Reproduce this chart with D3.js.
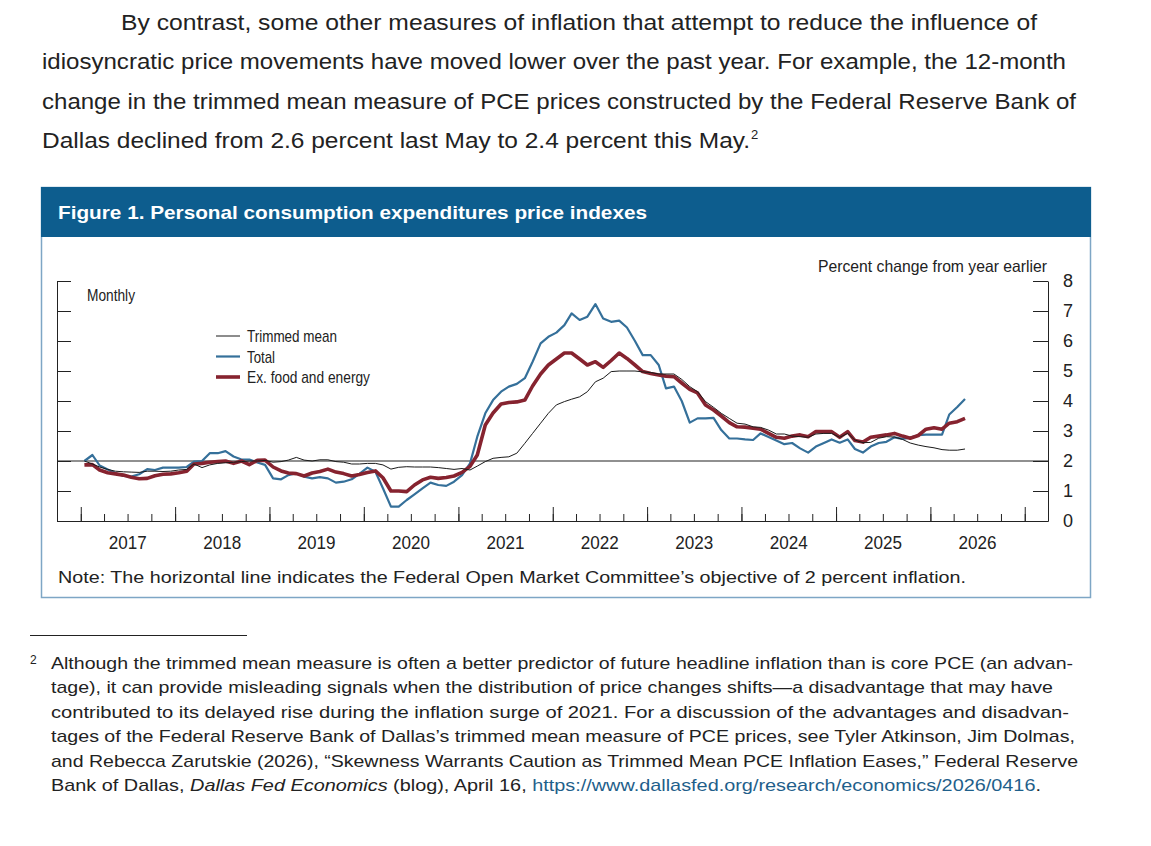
<!DOCTYPE html>
<html lang="en">
<head>
    <meta charset="UTF-8">
    <title>Figure 1. Personal consumption expenditures price indexes</title>
    <script src="https://d3js.org/d3.v7.min.js"></script>
    <style>
        body {
            margin: 0;
            background: #fff;
        }
        svg text {
            fill: #222;
            font-family: "Liberation Sans", Arial, sans-serif;
        }
    </style>
</head>
<body>
    <div id="page"></div>

    <script>
        // Monthly data, January 2017 through May 2026 (percent change from year earlier)
        const firstMonth = { year: 2017, month: 0 };

        const trimmedMean = [
            2.0, 1.9, 1.8, 1.72, 1.66, 1.64, 1.63, 1.62, 1.66, 1.66, 1.65, 1.66,
            1.7, 1.72, 1.9, 1.78, 1.87, 1.92, 1.94, 1.96, 1.98, 2.0, 2.0, 2.02,
            1.96, 1.98, 2.03, 2.12, 2.03, 2.0, 2.04, 2.04, 1.98, 1.96, 1.9, 1.9,
            1.92, 1.92, 1.87, 1.73, 1.79, 1.81, 1.8, 1.8, 1.8, 1.78, 1.75, 1.72,
            1.75, 1.7, 1.83, 1.98, 2.09, 2.12, 2.14, 2.26, 2.59, 2.92, 3.26, 3.59,
            3.87, 3.98, 4.06, 4.14, 4.31, 4.64, 4.76, 4.98, 5.0, 5.0, 5.0, 4.97,
            4.95, 4.9, 4.9, 4.9, 4.72, 4.48, 4.31, 3.98, 3.79, 3.59, 3.42, 3.26,
            3.23, 3.14, 3.12, 3.03, 2.9, 2.9, 2.83, 2.81, 2.79, 2.9, 2.92, 2.92,
            2.79, 2.92, 2.7, 2.61, 2.62, 2.76, 2.81, 2.8, 2.72, 2.6, 2.53, 2.48,
            2.44, 2.38, 2.36, 2.36, 2.4
        ];

        const total = [
            2.0, 2.2, 1.85, 1.72, 1.6, 1.5, 1.48, 1.56, 1.73, 1.7, 1.78, 1.78,
            1.78, 1.8, 1.98, 2.0, 2.26, 2.26, 2.33, 2.15, 2.05, 2.05, 1.95, 1.87,
            1.42, 1.39, 1.53, 1.59, 1.48, 1.42, 1.46, 1.42, 1.28, 1.31, 1.39, 1.57,
            1.78, 1.64, 1.09, 0.48, 0.48, 0.7, 0.89, 1.09, 1.28, 1.2, 1.17, 1.31,
            1.53, 1.92, 2.81, 3.59, 4.03, 4.31, 4.48, 4.57, 4.76, 5.31, 5.92, 6.14,
            6.28, 6.53, 6.92, 6.7, 6.81, 7.23, 6.75, 6.64, 6.68, 6.45, 6.0, 5.53,
            5.53, 5.2, 4.42, 4.48, 4.0, 3.28, 3.42, 3.42, 3.44, 3.03, 2.75, 2.75,
            2.72, 2.7, 2.92, 2.8, 2.68, 2.56, 2.6, 2.42, 2.28, 2.48, 2.6, 2.72,
            2.61, 2.72, 2.4, 2.28, 2.48, 2.6, 2.64, 2.79, 2.74, 2.78, 2.86, 2.88,
            2.88, 2.88, 3.55, 3.8, 4.07
        ];

        const exFoodEnergy = [
            1.87, 1.88, 1.7, 1.61, 1.57, 1.53, 1.46, 1.41, 1.42, 1.51, 1.56, 1.57,
            1.61, 1.66, 1.9, 1.92, 1.96, 1.98, 2.0, 1.92, 2.0, 1.88, 2.02, 2.03,
            1.8, 1.67, 1.6, 1.58, 1.5, 1.6, 1.65, 1.73, 1.63, 1.58, 1.5, 1.55,
            1.62, 1.67, 1.44, 1.0, 1.0, 0.98, 1.2, 1.37, 1.46, 1.42, 1.45, 1.5,
            1.62, 1.82, 2.2, 3.2, 3.6, 3.9, 3.95, 3.97, 4.03, 4.5, 4.9, 5.2,
            5.4, 5.6, 5.6, 5.4, 5.2, 5.31, 5.12, 5.35, 5.6, 5.42, 5.2, 4.98,
            4.92, 4.87, 4.83, 4.81, 4.6, 4.39, 4.27, 3.87, 3.7, 3.5, 3.28, 3.14,
            3.13, 3.09, 3.06, 2.92, 2.79, 2.76, 2.83, 2.87, 2.81, 2.98, 2.98, 2.98,
            2.79, 2.98, 2.68, 2.63, 2.79, 2.83, 2.87, 2.92, 2.83, 2.76, 2.85, 3.06,
            3.11, 3.06, 3.26, 3.31, 3.42
        ];

        const yearLabels = [2017, 2018, 2019, 2020, 2021, 2022, 2023, 2024, 2025, 2026];
        const yTicks = [0, 1, 2, 3, 4, 5, 6, 7, 8];
        const target = 2;

        const legendItems = [
            { label: "Trimmed mean", key: "trimmed", width: 90 },
            { label: "Total", key: "total", width: 28 },
            { label: "Ex. food and energy", key: "core", width: 123 }
        ];

        // text lines with the right edge each one reaches in the source layout
        const paragraphLines = [
            { text: "By contrast, some other measures of inflation that attempt to reduce the influence of", x: 121, end: 1037 },
            { text: "idiosyncratic price movements have moved lower over the past year. For example, the 12-month", x: 42, end: 1066 },
            { text: "change in the trimmed mean measure of PCE prices constructed by the Federal Reserve Bank of", x: 42, end: 1076 },
            { text: "Dallas declined from 2.6 percent last May to 2.4 percent this May.", x: 42, end: 750 }
        ];

        const footnoteLines = [
            { text: "Although the trimmed mean measure is often a better predictor of future headline inflation than is core PCE (an advan-", end: 1073 },
            { text: "tage), it can provide misleading signals when the distribution of price changes shifts\u2014a disadvantage that may have", end: 1053 },
            { text: "contributed to its delayed rise during the inflation surge of 2021. For a discussion of the advantages and disadvan-", end: 1069 },
            { text: "tages of the Federal Reserve Bank of Dallas\u2019s trimmed mean measure of PCE prices, see Tyler Atkinson, Jim Dolmas,", end: 1075 },
            { text: "and Rebecca Zarutskie (2026), \u201cSkewness Warrants Caution as Trimmed Mean PCE Inflation Eases,\u201d Federal Reserve", end: 1078 }
        ];

        // stretch or squeeze a text element to a given width
        function fit(sel, width) {
            sel.attr("textLength", width).attr("lengthAdjust", "spacingAndGlyphs");
        }

        // ---- page setup ----
        const W = 1151, H = 846;
        const svg = d3.select("#page").append("svg")
            .attr("width", W)
            .attr("height", H);

        svg.append("rect").attr("width", W).attr("height", H).attr("fill", "#fff");

        // Paragraph above the figure
        const para = svg.append("g").style("font-size", "22px");
        paragraphLines.forEach((line, i) => {
            para.append("text")
                .attr("x", line.x)
                .attr("y", 30 + i * 39.3)
                .text(line.text)
                .call(fit, line.end - line.x);
        });
        para.append("text")
            .attr("x", 751).attr("y", 139)
            .style("font-size", "13px")
            .text("2");

        // Figure frame and header
        svg.append("rect")
            .attr("x", 41.5).attr("y", 187.5)
            .attr("width", 1049).attr("height", 410)
            .attr("fill", "none")
            .attr("stroke", "#7ea6c5")
            .attr("stroke-width", 1.5);

        svg.append("rect")
            .attr("x", 41).attr("y", 187)
            .attr("width", 1050).attr("height", 50)
            .attr("fill", "#0d5d8e");

        svg.append("text")
            .attr("x", 58).attr("y", 219)
            .style("font-size", "19px")
            .style("font-weight", "bold")
            .style("fill", "#fff")
            .text("Figure 1. Personal consumption expenditures price indexes")
            .call(fit, 589);

        // ---- chart ----
        const plot = { left: 57, right: 1048, top: 281, bottom: 521 };

        const monthDate = i => new Date(firstMonth.year, firstMonth.month + i, 15);

        const x = d3.scaleTime()
            .domain([new Date(2016, 9, 1), new Date(2027, 3, 1)])
            .range([plot.left, plot.right]);

        const y = d3.scaleLinear()
            .domain([0, 8])
            .range([plot.bottom, plot.top]);

        const chart = svg.append("g");

        // Left axis: ticks only, pointing inward
        chart.append("g")
            .attr("transform", `translate(${plot.left},0)`)
            .call(d3.axisRight(y).tickValues(yTicks).tickSizeInner(14).tickSizeOuter(0).tickFormat(""))
            .call(g => g.selectAll("line, path").attr("stroke", "#222"));

        // Right axis: ticks pointing inward, labels outside
        chart.append("g")
            .attr("transform", `translate(${plot.right},0)`)
            .call(d3.axisRight(y).tickValues(yTicks).tickSizeInner(-15).tickSizeOuter(0).tickPadding(15))
            .call(g => g.selectAll("line, path").attr("stroke", "#222"))
            .call(g => g.selectAll("text")
                .attr("font-family", null)
                .style("font-size", "18px")
                .attr("fill", "#222"));

        // Bottom axis: quarterly minor ticks and yearly major ticks, pointing up
        const quarters = d3.timeMonth.every(3).range(new Date(2016, 9, 1), new Date(2027, 3, 2));
        const years = d3.timeYear.range(new Date(2017, 0, 1), new Date(2027, 0, 2));

        chart.append("g")
            .attr("transform", `translate(0,${plot.bottom})`)
            .call(d3.axisBottom(x).tickValues(quarters).tickSizeInner(-7).tickSizeOuter(0).tickFormat(""))
            .call(g => g.selectAll("line, path").attr("stroke", "#222"));

        chart.append("g")
            .attr("transform", `translate(0,${plot.bottom})`)
            .call(d3.axisBottom(x).tickValues(years).tickSizeInner(-14).tickSizeOuter(0).tickFormat(""))
            .call(g => g.select(".domain").remove())
            .call(g => g.selectAll("line").attr("stroke", "#222"));

        chart.append("g")
            .selectAll("text")
            .data(yearLabels)
            .join("text")
            .attr("x", d => x(new Date(d, 6, 2)) - 19)
            .attr("y", 549)
            .style("font-size", "19px")
            .text(d => d)
            .call(fit, 38);

        // 2 percent objective
        chart.append("line")
            .attr("x1", plot.left).attr("x2", plot.right)
            .attr("y1", y(target)).attr("y2", y(target))
            .attr("stroke", "#222")
            .attr("stroke-width", 1.2);

        // Axis captions (condensed face imitated by squeezing)
        chart.append("text")
            .attr("x", 818).attr("y", 272)
            .style("font-size", "16.5px")
            .text("Percent change from year earlier")
            .call(fit, 229);

        chart.append("text")
            .attr("x", 87).attr("y", 301)
            .style("font-size", "17px")
            .text("Monthly")
            .call(fit, 48);

        // Series
        const styles = {
            total: { color: "#35709a", width: 2.2 },
            core: { color: "#86232f", width: 3.6 },
            trimmed: { color: "#1a1a1a", width: 1 }
        };

        const line = d3.line()
            .x((d, i) => x(monthDate(i)))
            .y(d => y(d));

        const seriesData = { total: total, core: exFoodEnergy, trimmed: trimmedMean };

        ["total", "core", "trimmed"].forEach(key => {
            chart.append("path")
                .datum(seriesData[key])
                .attr("fill", "none")
                .attr("stroke", styles[key].color)
                .attr("stroke-width", styles[key].width)
                .attr("stroke-linejoin", "round")
                .attr("d", line);
        });

        // Legend
        const legend = chart.append("g");
        legendItems.forEach((item, i) => {
            const ly = 336 + i * 20.5;
            legend.append("line")
                .attr("x1", 216).attr("x2", 240)
                .attr("y1", ly).attr("y2", ly)
                .attr("stroke", styles[item.key].color)
                .attr("stroke-width", styles[item.key].width);
            legend.append("text")
                .attr("x", 247).attr("y", ly + 6)
                .style("font-size", "17px")
                .text(item.label)
                .call(fit, item.width);
        });

        // Note
        svg.append("text")
            .attr("x", 58).attr("y", 583)
            .style("font-size", "17px")
            .text("Note: The horizontal line indicates the Federal Open Market Committee\u2019s objective of 2 percent inflation.")
            .call(fit, 908);

        // ---- footnote ----
        svg.append("line")
            .attr("x1", 30).attr("x2", 247)
            .attr("y1", 635.5).attr("y2", 635.5)
            .attr("stroke", "#222");

        const foot = svg.append("g").style("font-size", "17px");
        foot.append("text")
            .attr("x", 30).attr("y", 664)
            .style("font-size", "12px")
            .text("2");

        footnoteLines.forEach((l, i) => {
            foot.append("text")
                .attr("x", 51)
                .attr("y", 669 + i * 24.4)
                .text(l.text)
                .call(fit, l.end - 51);
        });

        const last = foot.append("text")
            .attr("x", 51)
            .attr("y", 669 + 5 * 24.4);
        last.append("tspan").text("Bank of Dallas, ");
        last.append("tspan").style("font-style", "italic").text("Dallas Fed Economics");
        last.append("tspan").text(" (blog), April 16, ");
        last.append("tspan").style("fill", "#1f5f8b").text("https://www.dallasfed.org/research/economics/2026/0416");
        last.append("tspan").text(".");
        last.call(fit, 1041 - 51);
    </script>
</body>
</html>
